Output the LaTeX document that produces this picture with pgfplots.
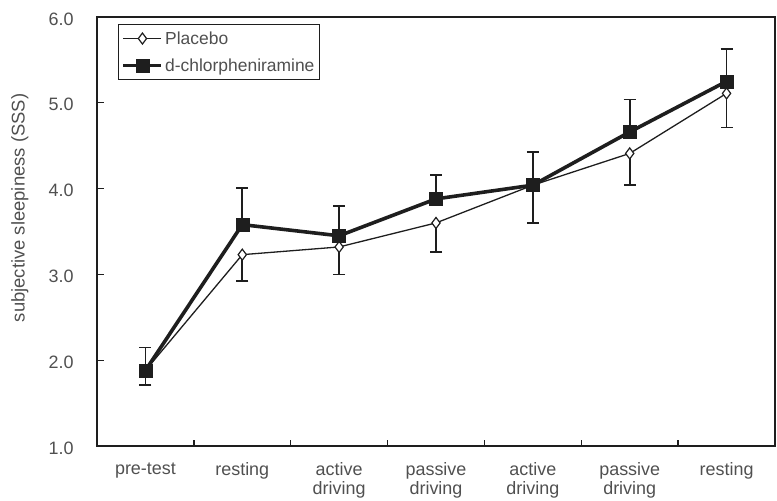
\documentclass[border=0pt]{standalone}
\usepackage{pgfplots}
\pgfplotsset{compat=1.18}
\usepackage{fontspec}
\setmainfont{Liberation Sans}
\definecolor{txt}{HTML}{505050}
\definecolor{ax}{HTML}{1E1E1E}
\begin{document}
\begin{tikzpicture}
\begin{axis}[
  at={(0,0)}, anchor=south west,
  scale only axis, width=678bp, height=429bp,
  xmin=-0.5, xmax=6.5, ymin=1, ymax=6,
  axis line style={ax, line width=1.6bp},
  xtick={0,1,2,3,4,5,6},
  xticklabels={pre-test, resting, {active\\driving}, {passive\\driving}, {active\\driving}, {passive\\driving}, resting},
  xticklabel style={align=center, font=\fontsize{18}{19.5}\selectfont, text=txt, yshift=-13bp},
  major x tick style={draw=none},
  minor xtick={0.5,1.5,2.5,3.5,4.5,5.5},
  minor x tick style={ax, line width=1.3bp},
  minor tick length=6bp,
  xtick pos=bottom, ytick pos=left,
  tick align=inside,
  ytick={1,2,3,4,5,6},
  yticklabels={1.0,2.0,3.0,4.0,5.0,6.0},
  yticklabel style={font=\fontsize{18}{20}\selectfont, text=txt, xshift=-20bp, yshift=-2bp},
  major tick length=7bp,
  major y tick style={ax, line width=1.3bp},
  ylabel={subjective sleepiness (SSS)},
  ylabel style={font=\fontsize{18.5}{20}\selectfont, text=txt, at={(axis description cs:-0.096,0.555)}, anchor=south, rotate=0},
  legend style={at={(rel axis cs:0.031,0.984)}, anchor=north west, draw=ax, line width=1.2bp, font=\fontsize{17.5}{19}\selectfont, text=txt, inner xsep=3bp, inner ysep=5bp, row sep=9bp, cells={anchor=west}},
  legend image code/.code={\draw[mark repeat=2,mark phase=2] plot coordinates {(0bp,0bp)(19bp,0bp)(38bp,0bp)};},
  clip=false,
]
\addplot[ax, line width=1.3bp, mark=diamond*, mark size=5.5bp,
  mark options={fill=white, line width=1.2bp, solid},
  error bars/.cd, y dir=minus, y explicit,
  error bar style={line width=1.6bp, ax},
  error mark options={rotate=90, mark size=6bp, line width=1.6bp, ax}]
  coordinates {
  (0,1.88) -= (0,0.17)
  (1,3.23) -= (0,0.31)
  (2,3.32) -= (0,0.32)
  (3,3.60) -= (0,0.34)
  (4,4.04) -= (0,0.44)
  (5,4.41) -= (0,0.37)
  (6,5.11) -= (0,0.40)
  };
\addlegendentry{Placebo}
\addplot[ax, line width=3.6bp, mark=square*, mark size=6.5bp,
  mark options={fill=ax, line width=0.5bp, solid},
  error bars/.cd, y dir=plus, y explicit,
  error bar style={line width=1.6bp, ax},
  error mark options={rotate=90, mark size=6bp, line width=1.6bp, ax}]
  coordinates {
  (0,1.88) += (0,0.27)
  (1,3.58) += (0,0.43)
  (2,3.45) += (0,0.35)
  (3,3.88) += (0,0.28)
  (4,4.04) += (0,0.39)
  (5,4.66) += (0,0.38)
  (6,5.25) += (0,0.38)
  };
\addlegendentry{d-chlorpheniramine}
\end{axis}
\pgfresetboundingbox
\path[use as bounding box] (-97bp,-55bp) rectangle (680bp,446bp);
\end{tikzpicture}
\end{document}
